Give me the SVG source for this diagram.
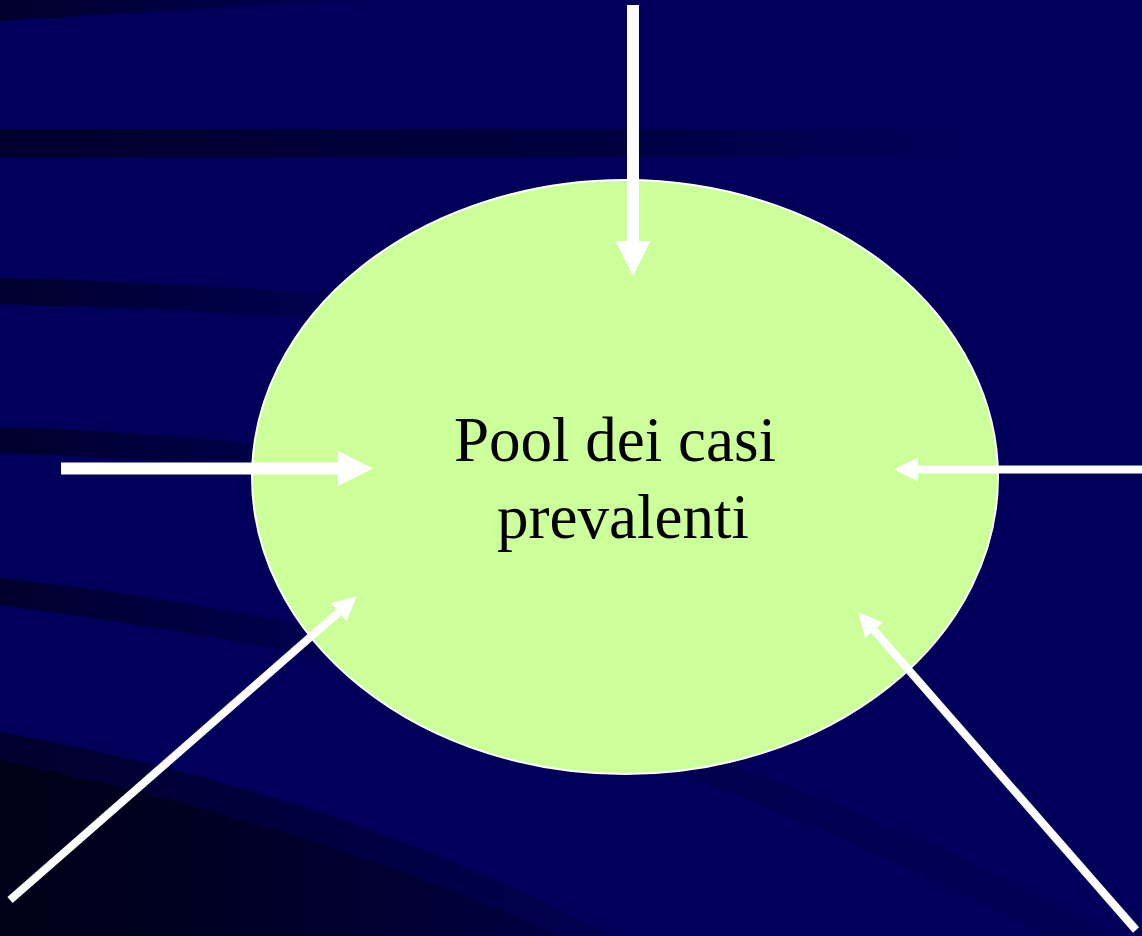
<svg xmlns="http://www.w3.org/2000/svg" width="1142" height="936" viewBox="0 0 1142 936">
  <defs>
    <linearGradient id="fadeA" gradientUnits="userSpaceOnUse" x1="0" y1="0" x2="380" y2="0">
      <stop offset="0" stop-color="#000" stop-opacity="0.5"/>
      <stop offset="1" stop-color="#000" stop-opacity="0.05"/>
    </linearGradient>
    <linearGradient id="fadeB" gradientUnits="userSpaceOnUse" x1="0" y1="0" x2="960" y2="0">
      <stop offset="0" stop-color="#000" stop-opacity="0.5"/>
      <stop offset="0.6" stop-color="#000" stop-opacity="0.3"/>
      <stop offset="1" stop-color="#000" stop-opacity="0"/>
    </linearGradient>
    <linearGradient id="fadeC" gradientUnits="userSpaceOnUse" x1="0" y1="0" x2="620" y2="0">
      <stop offset="0" stop-color="#000" stop-opacity="0.5"/>
      <stop offset="1" stop-color="#000" stop-opacity="0.1"/>
    </linearGradient>
    <linearGradient id="fadeD" gradientUnits="userSpaceOnUse" x1="690" y1="0" x2="1142" y2="0">
      <stop offset="0" stop-color="#000" stop-opacity="0.14"/>
      <stop offset="1" stop-color="#000" stop-opacity="0.03"/>
    </linearGradient>
    <marker id="headBig" markerUnits="userSpaceOnUse" markerWidth="36" markerHeight="36" refX="0" refY="17.5" orient="auto">
      <path d="M0,0 L35,17.5 L0,35 Z" fill="#fff"/>
    </marker>
    <marker id="headSmall" markerUnits="userSpaceOnUse" markerWidth="25" markerHeight="25" refX="0" refY="12" orient="auto">
      <path d="M0,0 L24,12 L0,24 Z" fill="#fff"/>
    </marker>
  </defs>
  <style>
    .big { stroke: #fff; stroke-width: 12; fill: none; }
    .small { stroke: #fff; stroke-width: 8; fill: none; }
    .label { font-family: "Liberation Serif", "Times New Roman", serif; font-size: 63px; fill: #000; text-anchor: middle; }
  </style>

  <!-- background -->
  <rect x="0" y="0" width="1142" height="936" fill="#00005a"/>
  <g id="background-bands">
    <path d="M0,0 L380,0 Q200,8 0,21 Z" fill="url(#fadeA)"/>
    <path d="M0,129 L960,129 L960,157 L0,157 Z" fill="url(#fadeB)"/>
    <path d="M0,278 Q200,283 380,298 L380,324 Q200,309 0,304 Z" fill="url(#fadeA)"/>
    <path d="M0,427 Q150,432 270,445 L270,471 Q150,458 0,453 Z" fill="url(#fadeA)"/>
    <path d="M0,578 Q180,598 360,636 L360,666 Q180,628 0,605 Z" fill="url(#fadeA)"/>
    <path d="M690,752 Q900,820 1120,936 L1050,936 Q860,840 690,778 Z" fill="url(#fadeD)"/>
    <path d="M0,732 Q330,790 615,936 L0,936 Z" fill="url(#fadeC)"/>
    <path d="M0,761 Q300,820 560,936 L0,936 Z" fill="url(#fadeC)"/>
  </g>

  <g id="node-pool">
    <ellipse cx="625" cy="477" rx="373" ry="297" fill="#ccff99" stroke="#fff" stroke-width="2"/>
    <text class="label" x="615" y="461">Pool dei casi</text>
    <text class="label" x="623" y="538">prevalenti</text>
  </g>

  <g id="connectors">
    <line class="big" x1="633" y1="5" x2="633" y2="241" marker-end="url(#headBig)"/>
    <line class="big" x1="61" y1="468.5" x2="338" y2="468.5" marker-end="url(#headBig)"/>
    <line class="small" x1="1142" y1="469.5" x2="918" y2="469.5" marker-end="url(#headSmall)"/>
    <line class="small" x1="10" y1="900" x2="338.7" y2="612.2" marker-end="url(#headSmall)"/>
    <line class="small" x1="1136" y1="930" x2="874.1" y2="630.3" marker-end="url(#headSmall)"/>
  </g>
</svg>
